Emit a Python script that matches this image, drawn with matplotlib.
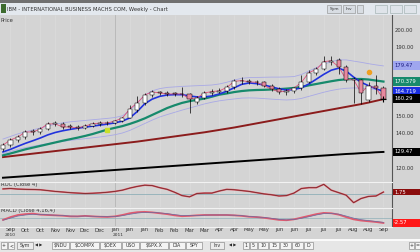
import numpy as np
import matplotlib
matplotlib.use("Agg")
import matplotlib.pyplot as plt
from matplotlib.patches import Rectangle
from matplotlib.transforms import blended_transform_factory

W, H = 420, 252
BG = "#d4d4d4"
FS = 3.8

# weekly IBM candles, Sep 2010 - Sep 2011
close = [133.5, 136.5, 138.2, 141.1, 141.1, 142.8, 145.8, 145.8, 144.0, 144.0,
         143.4, 144.6, 145.8, 146.3, 146.3, 147.5, 149.2, 154.5, 158.0, 162.6,
         164.4, 163.8, 163.2, 163.2, 163.2, 160.3, 160.9, 163.8, 164.6, 165.0,
         167.0, 170.5, 171.0, 170.2, 170.0, 168.0, 166.0, 164.4, 164.8, 166.5,
         170.0, 175.6, 177.5, 182.0, 182.5, 179.0, 171.5, 171.5, 164.0, 168.0,
         166.5, 160.3]
opens = [131.0, 133.5, 136.5, 138.2, 141.3, 141.0, 142.8, 145.8, 146.0, 144.2,
         144.0, 143.4, 144.6, 145.8, 146.5, 146.3, 147.5, 149.5, 154.0, 158.0,
         162.6, 164.4, 164.0, 163.4, 163.0, 163.2, 158.5, 160.9, 163.8, 164.6,
         165.0, 167.0, 170.5, 171.0, 170.2, 170.0, 168.0, 166.0, 164.4, 164.8,
         166.5, 170.0, 175.6, 177.5, 182.0, 183.0, 179.0, 171.5, 171.3, 159.7,
         168.0, 166.5]
high = [134.5, 137.5, 139.5, 142.0, 143.0, 143.8, 147.0, 147.2, 146.8, 145.8,
        145.0, 145.5, 146.8, 147.2, 147.5, 148.3, 150.0, 156.5, 162.0, 164.0,
        165.5, 165.0, 165.2, 164.5, 167.2, 164.0, 162.0, 165.0, 166.0, 166.5,
        168.5, 172.0, 172.8, 172.0, 171.5, 171.0, 169.0, 167.0, 166.0, 167.5,
        174.5, 177.0, 179.0, 185.5, 185.0, 184.0, 180.0, 173.0, 172.0, 170.0,
        174.0, 168.0]
low = [130.0, 132.5, 135.5, 137.0, 139.5, 140.0, 142.0, 144.5, 143.0, 142.8,
       142.0, 142.8, 143.8, 144.8, 145.0, 145.5, 146.8, 149.0, 153.0, 157.0,
       161.5, 162.5, 162.0, 161.8, 161.5, 152.0, 157.5, 160.0, 162.5, 163.5,
       164.0, 166.0, 169.0, 169.0, 168.5, 167.0, 164.8, 163.0, 162.5, 163.5,
       165.5, 169.5, 174.5, 177.0, 180.0, 175.0, 170.0, 158.0, 157.5, 158.5,
       163.0, 159.5]

ma_fast = [129.5, 131.0, 132.8, 134.5, 136.0, 137.6, 139.4, 140.8, 141.8, 142.6,
           143.3, 143.9, 144.5, 145.1, 145.7, 146.4, 147.4, 149.3, 153.0, 157.5,
           160.2, 161.8, 162.6, 162.8, 162.8, 162.0, 161.5, 161.5, 162.0, 163.2,
           164.8, 166.8, 168.8, 169.6, 169.2, 168.4, 167.3, 166.2, 165.5, 165.8,
           166.8, 169.0, 171.8, 174.6, 177.0, 178.2, 176.5, 173.0, 170.0, 168.0,
           166.2, 164.7]
ma_mid = [127.5, 128.6, 129.8, 131.0, 132.0, 133.0, 134.0, 135.0, 136.0, 136.9,
          137.8, 138.8, 139.9, 141.2, 142.5, 143.5, 144.5, 145.8, 147.3, 149.0,
          151.0, 153.0, 155.0, 156.6, 158.0, 159.0, 159.8, 160.5, 161.6, 162.8,
          163.5, 164.3, 164.9, 165.3, 165.5, 165.6, 165.8, 166.0, 166.3, 166.7,
          167.3, 168.2, 169.0, 169.8, 170.6, 171.3, 171.7, 171.9, 171.9, 171.6,
          171.0, 170.4]
ma_slow = [126.5, 127.0, 127.5, 128.0, 128.5, 129.0, 129.5, 130.0, 130.5, 131.0,
           131.5, 132.0, 132.5, 133.0, 133.5, 134.0, 134.5, 135.0, 135.5, 136.1,
           136.7, 137.3, 137.9, 138.5, 139.1, 139.7, 140.3, 140.9, 141.6, 142.3,
           143.0, 143.7, 144.5, 145.3, 146.1, 146.9, 147.7, 148.5, 149.3, 150.1,
           150.9, 151.7, 152.5, 153.3, 154.1, 154.9, 155.7, 156.5, 157.3, 158.2,
           159.2, 160.2]
ma_long = [114.5, 114.8, 115.1, 115.4, 115.7, 116.0, 116.3, 116.6, 116.9, 117.2,
           117.5, 117.8, 118.1, 118.4, 118.7, 119.0, 119.3, 119.6, 119.9, 120.2,
           120.5, 120.8, 121.1, 121.4, 121.7, 122.0, 122.3, 122.6, 122.9, 123.2,
           123.5, 123.8, 124.1, 124.4, 124.7, 125.0, 125.3, 125.6, 125.9, 126.2,
           126.5, 126.8, 127.1, 127.4, 127.7, 128.0, 128.3, 128.5, 128.8, 129.0,
           129.3, 129.5]
band_up = [137.0, 138.5, 140.0, 141.2, 142.3, 143.4, 144.6, 145.6, 146.4, 147.0,
           147.4, 147.8, 148.2, 148.6, 149.0, 149.5, 150.5, 153.5, 158.0, 162.5,
           165.0, 166.3, 167.0, 167.3, 167.6, 167.8, 168.0, 168.2, 168.4, 169.0,
           170.0, 171.3, 172.3, 172.7, 172.8, 172.9, 173.0, 173.0, 173.1, 173.3,
           174.5, 176.5, 178.5, 180.5, 182.0, 183.0, 183.0, 182.3, 181.6, 180.8,
           180.1, 179.5]
band_lo = [128.5, 129.8, 131.0, 132.0, 132.8, 133.6, 134.3, 135.0, 135.6, 136.2,
           136.7, 137.2, 137.7, 138.2, 138.8, 139.5, 140.5, 142.0, 144.0, 146.0,
           148.0, 149.8, 151.2, 152.5, 153.8, 155.0, 156.2, 157.4, 158.4, 159.2,
           159.8, 160.3, 160.8, 160.9, 160.8, 160.5, 160.2, 159.9, 159.7, 159.9,
           160.6, 161.8, 163.0, 164.2, 165.2, 166.0, 166.5, 166.7, 166.6, 166.2,
           165.8, 165.5]

roc = [5.5, 6.0, 5.3, 5.0, 4.8, 4.5, 3.5, 2.5, 1.8, 1.0,
       0.5, 0.0, 0.3, 0.8, 1.5, 2.5, 4.0, 6.5, 8.5, 10.0,
       9.5, 7.0, 5.0, 1.5, -2.5, -4.0, 0.0, 0.5, 0.5, 3.0,
       5.0, 4.5, 3.5, 2.5, 1.0, -0.5, -1.5, -3.0, -2.5, 0.5,
       6.0, 7.0, 7.0, 11.0, 4.0, 1.0, -2.0, -11.0, -6.0, -3.5,
       -3.0, 1.75]
macd = [-0.8, 0.8, 2.0, 2.5, 2.8, 2.2, 2.0, 1.8, 1.6, 1.2,
        1.2, 1.5, 1.2, 1.0, 0.9, 1.2, 2.0, 3.0, 3.6, 3.8,
        3.5, 3.0, 2.5, 1.8, 1.3, 1.5, 1.8, 2.0, 2.0, 2.0,
        2.0, 1.8, 1.5, 1.0, 0.8, 0.4, -0.2, -0.8, -1.0, -0.5,
        0.5, 1.5, 2.5, 3.2, 3.0, 2.2, 0.8, -0.5, -1.2, -1.6,
        -2.0, -2.57]
macd_sig = [-1.0, 0.2, 1.4, 2.0, 2.4, 2.3, 2.1, 1.9, 1.7, 1.4,
            1.3, 1.4, 1.3, 1.1, 1.0, 1.1, 1.6, 2.4, 3.1, 3.5,
            3.5, 3.2, 2.8, 2.2, 1.7, 1.6, 1.7, 1.9, 2.0, 2.0,
            2.0, 1.9, 1.6, 1.2, 0.9, 0.6, 0.1, -0.5, -0.8, -0.6,
            0.1, 1.0, 2.0, 2.8, 2.9, 2.5, 1.4, 0.2, -0.7, -1.2,
            -1.7, -2.2]

month_labels = ["Sep", "Oct", "Oct", "Nov", "Nov", "Dec", "Dec", "Jan", "Jan", "Jan",
                "Feb", "Feb", "Mar", "Mar", "Apr", "Apr", "May", "May", "Jun", "Jun",
                "Jul", "Jul", "Jul", "Aug", "Aug", "Sep"]
# axis labels that are not hidden behind a value box
price_ticks = [120, 140, 150, 190, 200]
title = "IBM - INTERNATIONAL BUSINESS MACHS COM, Weekly - Chart"
symbols = ["$NDU", "$COMPX", "$OEX", "USO", "$SPX.X", "DIA", "SPY"]
intervals = ["1", "5", "10", "15", "30", "60", "D"]

x = np.arange(len(close))
XLIM = (-3 / 7.46, 389 / 7.46)

fig = plt.figure(figsize=(W / 100, H / 100), dpi=100)
fig.patch.set_facecolor(BG)


def px_axes(x0, y0, w, h):
    return fig.add_axes([x0 / W, 1 - (y0 + h) / H, w / W, h / H])


def style(ax, ylim):
    ax.set_facecolor(BG)
    ax.set_xlim(*XLIM)
    ax.set_ylim(*ylim)
    ax.set_xticks([])
    ax.set_yticks([])
    for s in ["left", "top", "bottom"]:
        ax.spines[s].set_visible(False)
    ax.spines["right"].set_color("#555555")
    ax.spines["right"].set_linewidth(0.8)
    for t in np.arange(1, len(close), 2):
        ax.axvline(t, color="#dddddd", lw=0.4, zorder=0)
    ax.axvline(15, color="#b4b4b4", lw=0.6, zorder=0)


def value_box(ax, y, h, text, bg, fg="white"):
    tr = blended_transform_factory(fig.transFigure, ax.transData)
    ax.add_patch(Rectangle((393 / W, y - h / 2), 27 / W, h, transform=tr,
                           facecolor=bg, edgecolor="none", clip_on=False, zorder=6))
    ax.text(394 / W, y, text, transform=tr, color=fg, fontsize=FS,
            va="center", ha="left", clip_on=False, zorder=7)


# title bar
fig.add_artist(Rectangle((0, 1 - 3 / H), 1, 3 / H, transform=fig.transFigure,
                         facecolor="#707070", edgecolor="none"))
fig.add_artist(Rectangle((0, 1 - 15 / H), 1, 12 / H, transform=fig.transFigure,
                         facecolor="#e3e8ee", edgecolor="none"))
fig.add_artist(Rectangle((0.5 / W, 1 - 13 / H), 5 / W, 9 / H, transform=fig.transFigure,
                         facecolor="#3d6b2e", edgecolor="none"))
fig.text(7 / W, 1 - 9.5 / H, title, fontsize=FS, color="#333333", va="center")
for bx, bw, lab in [(327, 14, "Sym"), (343, 12, "Inv"), (357, 6, "")]:
    fig.add_artist(Rectangle((bx / W, 1 - 13 / H), bw / W, 8 / H, transform=fig.transFigure,
                             facecolor="#d8dde3", edgecolor="#8a8a8a", lw=0.4))
    fig.text((bx + bw / 2) / W, 1 - 9 / H, lab, fontsize=3.2, ha="center", va="center", color="#333")
for bx in [375, 390, 404]:
    fig.add_artist(Rectangle((bx / W, 1 - 13 / H), 12 / W, 8 / H, transform=fig.transFigure,
                             facecolor="#dfe4ea", edgecolor="#9aa", lw=0.4))

# price panel
ax = px_axes(0, 15, 392, 166)
style(ax, (112.6, 209.1))
ax.plot(x, band_up, color="#a9a9e6", lw=0.6, zorder=2)
ax.plot(x, band_lo, color="#a9a9e6", lw=0.6, zorder=2)
ax.plot(x, ma_long, color="black", lw=1.4, zorder=2)
ax.plot(x, ma_slow, color="#8b1c1c", lw=1.4, zorder=2)
ax.plot(x, ma_mid, color="#178a6c", lw=1.6, zorder=2)
ax.plot(x, ma_fast, color="#2233dd", lw=1.2, zorder=3)
ax.plot(x, close, color="#e0507a", lw=0.6, zorder=3)
c = np.array(close)
o = np.array(opens)
ax.vlines(x, low, high, color="black", lw=0.5, zorder=4)
up = c >= o
ax.bar(x, np.maximum(np.abs(c - o), 0.3), bottom=np.minimum(o, c), width=0.55,
       color=np.where(up, "white", "#e8899f"), edgecolor="black", lw=0.35, zorder=5)
ax.plot(x[-1], close[-1], marker="+", color="black", ms=4, mew=0.8, zorder=6)
ax.plot(14, 142.3, marker="s", color="#c9e02a", ms=3, zorder=6)
ax.plot(49, 176.0, marker="o", color="#f0a020", ms=3, zorder=6)
ax.text(XLIM[0] + 0.1, 207.5, "Price", fontsize=FS, color="#333", va="top")

tr = blended_transform_factory(fig.transFigure, ax.transData)
for p in price_ticks:
    ax.text(395 / W, p, f"{p:.2f}", transform=tr, fontsize=FS, color="#333",
            va="center", ha="left", clip_on=False)
value_box(ax, 179.47, 5.2, "179.47", "#9fa6ef", "#1a1a80")
value_box(ax, 170.379, 5.2, "170.379", "#178a6c")
value_box(ax, 164.719, 5.2, "164.719", "#1a2ee0")
value_box(ax, 160.29, 5.2, "160.29", "black")
value_box(ax, 129.47, 5.2, "129.47", "black")

# ROC panel
ax2 = px_axes(0, 182, 392, 25)
style(ax2, (-16.2, 13.8))
ax2.axhline(0, color="#8fb0b8", lw=0.6, zorder=1)
ax2.plot(x, roc, color="#e06070", lw=1.2, zorder=2)
ax2.plot(x, roc, color="#7a2a2a", lw=0.6, zorder=3)
ax2.text(XLIM[0] + 0.1, 13.5, "ROC (Close 4)", fontsize=FS, color="#333", va="top")
value_box(ax2, 1.75, 7.5, "1.75", "#8b0d0d")

# MACD panel
ax3 = px_axes(0, 208, 392, 18)
style(ax3, (-4.3, 6.0))
ax3.axhline(0, color="#8fb0b8", lw=0.5, zorder=1)
ax3.plot(x, macd, color="#e05a6e", lw=1.3, zorder=2)
ax3.plot(x, macd_sig, color="#6a6aa0", lw=0.5, zorder=3)
ax3.text(XLIM[0] + 0.1, 5.8, "MACD (Close 4,16,4)", fontsize=FS, color="#333", va="top")
value_box(ax3, -2.57, 4.2, "-2.57", "#ff1818")

# separators
for yy in [181.5, 207.5, 226.5]:
    fig.add_artist(plt.Line2D([0, 392 / W], [1 - yy / H] * 2, transform=fig.transFigure,
                              color="#f2f2f2", lw=0.8))

# date labels
trd = blended_transform_factory(ax3.transData, fig.transFigure)
for k, lab in enumerate(month_labels):
    ax3.text(1 + 2 * k, 1 - 230 / H, lab, transform=trd, fontsize=FS, color="#333",
             ha="center", va="center", clip_on=False)
ax3.text(1, 1 - 235 / H, "2010", transform=trd, fontsize=3.2, color="#333", ha="center", va="center", clip_on=False)
ax3.text(15.5, 1 - 235 / H, "2011", transform=trd, fontsize=3.2, color="#333", ha="center", va="center", clip_on=False)

# bottom tab bar
fig.add_artist(Rectangle((0, 0), 1, 13 / H, transform=fig.transFigure,
                         facecolor="#e6e6e6", edgecolor="none"))
fig.add_artist(Rectangle((0, 11.5 / H), 1, 1.5 / H, transform=fig.transFigure,
                         facecolor="#fafafa", edgecolor="none"))


def tab(x0, w, lab, fc="#f4f4f4"):
    fig.add_artist(Rectangle((x0 / W, 3 / H), w / W, 7 / H, transform=fig.transFigure,
                             facecolor=fc, edgecolor="#7a7a7a", lw=0.4))
    fig.text((x0 + w / 2) / W, 6.5 / H, lab, fontsize=3.4, ha="center", va="center", color="#333")


tab(1, 6, "+")
tab(8, 6, "<")
tab(17, 16, "Sym", "#ececec")
fig.text(39 / W, 6.5 / H, "\u25c0 \u25b6", fontsize=2.8, ha="center", va="center", color="#222")
sx = [52, 70, 100, 122, 140, 169, 186]
sw = [17, 29, 21, 17, 28, 16, 16]
for s0, w0, lab in zip(sx, sw, symbols):
    tab(s0, w0, lab)
tab(210, 14, "Inv", "#ececec")
fig.text(233 / W, 6.5 / H, "\u25c0 \u25b6", fontsize=2.8, ha="center", va="center", color="#222")
ix = [243, 250, 258, 269, 280, 292, 304]
iw = [6, 7, 10, 10, 11, 11, 9]
for s0, w0, lab in zip(ix, iw, intervals):
    tab(s0, w0, lab)
tab(409, 5, "+")
tab(415, 5, "=")

fig.savefig("out.png", dpi=100, facecolor=BG)
